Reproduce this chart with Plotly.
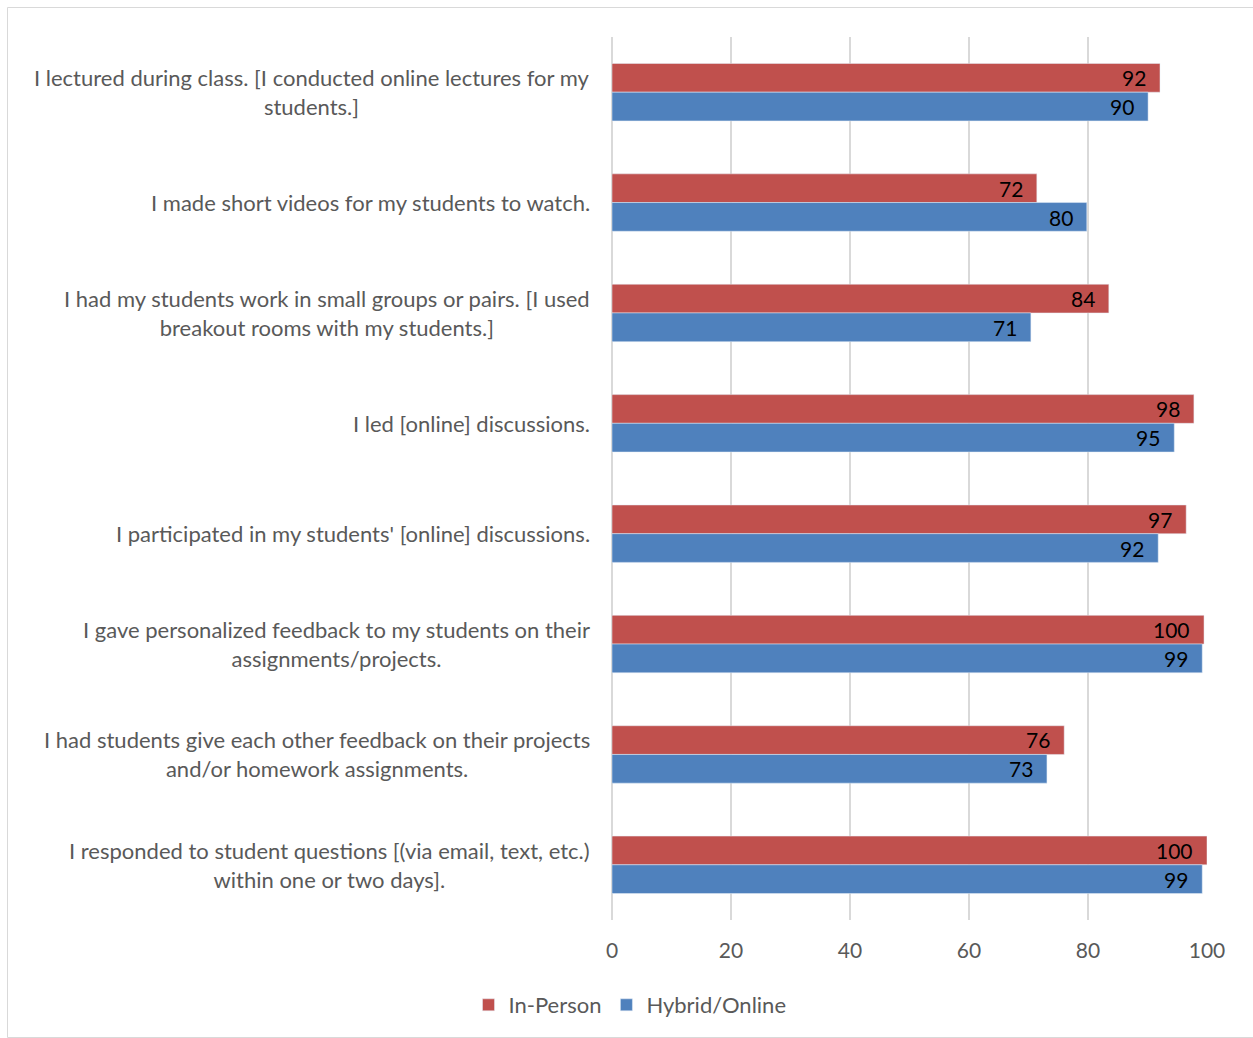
import plotly.graph_objects as go

categories = [
    "I lectured during class. [I conducted online lectures for my<br>students.]",
    "I made short videos for my students to watch.",
    "I had my students work in small groups or pairs. [I used<br>breakout rooms with my students.]",
    "I led [online] discussions.",
    "I participated in my students' [online] discussions.",
    "I gave personalized feedback to my students on their<br>assignments/projects.",
    "I had students give each other feedback on their projects<br>and/or homework assignments.",
    "I responded to student questions [(via email, text, etc.)<br>within one or two days].",
]
in_person = [92.1, 71.4, 83.5, 97.8, 96.5, 99.5, 76.0, 100.0]
hybrid_online = [90.1, 79.8, 70.4, 94.5, 91.8, 99.2, 73.1, 99.2]
in_person_labels = ["92", "72", "84", "98", "97", "100", "76", "100"]
hybrid_labels = ["90", "80", "71", "95", "92", "99", "73", "99"]
x_ticks = [0, 20, 40, 60, 80, 100]

RED = "#C0504D"
BLUE = "#4F81BD"
GRAY_TXT = "#595959"
FONT = "Lato"

fig = go.Figure()
fig.add_trace(go.Bar(y=categories, x=in_person, orientation="h", name="In-Person",
                     marker=dict(color=RED), hoverinfo="x"))
fig.add_trace(go.Bar(y=categories, x=hybrid_online, orientation="h", name="Hybrid/Online",
                     marker=dict(color=BLUE), hoverinfo="x"))

annotations = []
for cat in categories:
    annotations.append(dict(x=0, y=cat, xref="paper", yref="y", text=cat,
                            xanchor="right", yanchor="middle", align="center",
                            xshift=-20, showarrow=False,
                            font=dict(family=FONT, size=22, color=GRAY_TXT)))
for cat, v, t in zip(categories, in_person, in_person_labels):
    annotations.append(dict(x=v, y=cat, xref="x", yref="y", text=t, xanchor="right",
                            yanchor="middle", xshift=-12, yshift=14.5, showarrow=False,
                            font=dict(family=FONT, size=21, color="black")))
for cat, v, t in zip(categories, hybrid_online, hybrid_labels):
    annotations.append(dict(x=v, y=cat, xref="x", yref="y", text=t, xanchor="right",
                            yanchor="middle", xshift=-12, yshift=-14.5, showarrow=False,
                            font=dict(family=FONT, size=21, color="black")))

W, H = 1253, 1038
L, R, T, B = 612, 46, 37, 118
pw, ph = W - L - R, H - T - B

def px(xp):
    return (xp - L) / pw

def py(yp):
    return (H - B - yp) / ph

fig.update_layout(
    width=W, height=H,
    margin=dict(l=L, r=R, t=T, b=B),
    paper_bgcolor="white", plot_bgcolor="white",
    barmode="group", bargap=0.48, bargroupgap=0,
    font=dict(family=FONT, size=21, color=GRAY_TXT),
    xaxis=dict(range=[0, 100], tickvals=x_ticks, showgrid=True, gridcolor="#D9D9D9",
               gridwidth=2, zeroline=True, zerolinecolor="#D9D9D9", zerolinewidth=2,
               showline=False, ticks="outside", ticklen=12, tickcolor="rgba(0,0,0,0)",
               tickfont=dict(family=FONT, size=21, color=GRAY_TXT), fixedrange=True),
    yaxis=dict(autorange="reversed", showticklabels=False, showgrid=False,
               zeroline=False, showline=False, ticks=""),
    legend=dict(orientation="h", x=px(630), xanchor="center", y=py(1005), yanchor="middle",
                font=dict(family=FONT, size=22, color=GRAY_TXT), traceorder="normal",
                itemwidth=30),
    annotations=annotations,
    shapes=[dict(type="rect", xref="paper", yref="paper",
                 x0=px(7.5), x1=px(1262), y0=py(7.5), y1=py(1037.5),
                 line=dict(color="#D9D9D9", width=1), layer="below")],
    showlegend=True,
)

fig.write_html("out.html")
